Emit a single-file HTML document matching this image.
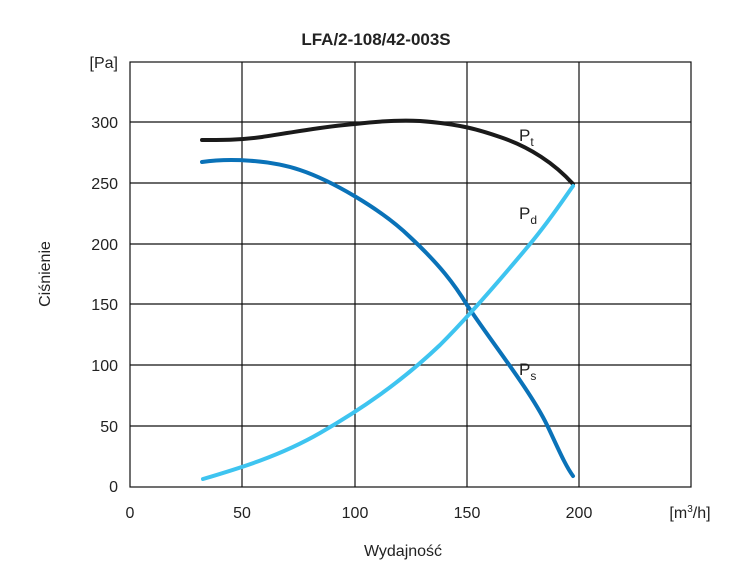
<!DOCTYPE html>
<html><head><meta charset="utf-8"><style>
body{margin:0;background:#fff;}
svg text{font-family:"Liberation Sans",sans-serif;fill:#222;}
</style></head><body>
<svg width="752" height="576" viewBox="0 0 752 576" xmlns="http://www.w3.org/2000/svg">
<rect width="752" height="576" fill="#fff"/>
<text x="376" y="45" font-size="17" font-weight="bold" text-anchor="middle" fill="#111">LFA/2-108/42-003S</text>
<g stroke="#111" stroke-width="1.2" fill="none">
<rect x="130" y="62" width="561" height="425"/>
<line x1="242" y1="62" x2="242" y2="487"/>
<line x1="355" y1="62" x2="355" y2="487"/>
<line x1="467" y1="62" x2="467" y2="487"/>
<line x1="579" y1="62" x2="579" y2="487"/>
<line x1="130" y1="122" x2="691" y2="122"/>
<line x1="130" y1="183" x2="691" y2="183"/>
<line x1="130" y1="244" x2="691" y2="244"/>
<line x1="130" y1="304" x2="691" y2="304"/>
<line x1="130" y1="365" x2="691" y2="365"/>
<line x1="130" y1="426" x2="691" y2="426"/>
</g>
<g font-size="16" text-anchor="end">
<text x="118" y="68">[Pa]</text>
<text x="118" y="128">300</text>
<text x="118" y="189">250</text>
<text x="118" y="250">200</text>
<text x="118" y="310">150</text>
<text x="118" y="371">100</text>
<text x="118" y="432">50</text>
<text x="118" y="492">0</text>
</g>
<g font-size="16" text-anchor="middle">
<text x="130" y="518">0</text>
<text x="242" y="518">50</text>
<text x="355" y="518">100</text>
<text x="467" y="518">150</text>
<text x="579" y="518">200</text>
<text x="690" y="518">[m<tspan font-size="10" dy="-6">3</tspan><tspan dy="6">/h]</tspan></text>
<text x="403" y="556">Wydajność</text>
</g>
<text x="50" y="274" font-size="16" text-anchor="middle" transform="rotate(-90 50 274)">Ciśnienie</text>
<g fill="none" stroke-width="4" stroke-linecap="round">
<path d="M202,140 C225,140 240,140 262,137 C300,131 330,126 355,124 C380,121 400,120 420,121 C460,124 480,130 500,137 C530,147 555,164 573,184" stroke="#1a1a1a"/>
<path d="M202,162 C230,158 270,160 300,170 C330,180 380,208 410,237 C440,265 455,285 467,305 C490,340 530,390 547,425 C558,448 565,465 573,476" stroke="#0a72b8"/>
<path d="M203,479 C240,468 280,456 320,433 C360,410 400,383 440,345 C470,315 500,280 530,244 C550,220 563,200 573,186" stroke="#3ec4f0"/>
</g>
<g font-size="17">
<text x="519" y="141" fill="#5a2a4a">P<tspan font-size="12" dy="5">t</tspan></text>
<text x="519" y="219" fill="#3ec4f0">P<tspan font-size="12" dy="5">d</tspan></text>
<text x="519" y="375" fill="#4a5fb0">P<tspan font-size="12" dy="5">s</tspan></text>
</g>
</svg>
</body></html>
